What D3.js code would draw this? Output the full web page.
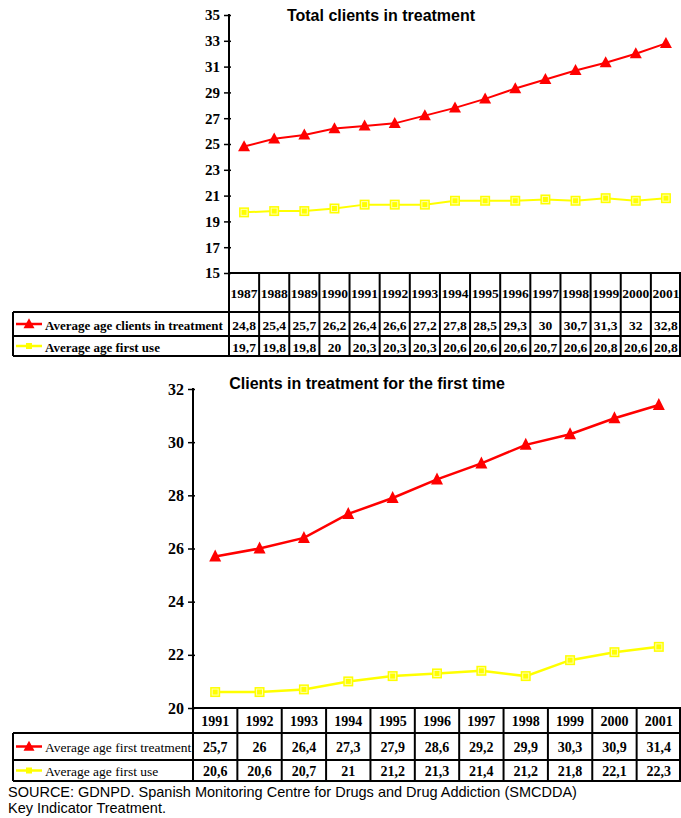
<!DOCTYPE html>
<html>
<head>
<meta charset="utf-8">
<script src="https://cdn.jsdelivr.net/npm/d3@7/dist/d3.min.js"></script>
<style>
  html, body { margin: 0; padding: 0; background: #fff; }
  svg { display: block; }
  .tick text { font-family: 'Liberation Serif', 'Times New Roman', Times, serif !important; font-weight: bold; }
</style>
</head>
<body>
<script>
// ---- Data: total clients in treatment ----
const totalYears = ["1987","1988","1989","1990","1991","1992","1993","1994","1995","1996","1997","1998","1999","2000","2001"];
const totalAgeTreatment = [24.8,25.4,25.7,26.2,26.4,26.6,27.2,27.8,28.5,29.3,30,30.7,31.3,32,32.8];
const totalAgeFirstUse = [19.7,19.8,19.8,20,20.3,20.3,20.3,20.6,20.6,20.6,20.7,20.6,20.8,20.6,20.8];
const totalTicks = [15,17,19,21,23,25,27,29,31,33,35];

// ---- Data: clients in treatment for the first time ----
const firstYears = ["1991","1992","1993","1994","1995","1996","1997","1998","1999","2000","2001"];
const firstAgeTreatment = [25.7,26,26.4,27.3,27.9,28.6,29.2,29.9,30.3,30.9,31.4];
const firstAgeFirstUse = [20.6,20.6,20.7,21,21.2,21.3,21.4,21.2,21.8,22.1,22.3];
const firstTicks = [20,22,24,26,28,30,32];

const sourceLines = [
  "SOURCE: GDNPD. Spanish Monitoring Centre for Drugs and Drug Addiction (SMCDDA)",
  "Key Indicator Treatment."
];

const RED = "#ff0000", YELLOW = "#ffff00";
const SERIF = "'Liberation Serif', 'Times New Roman', Times, serif";
const SANS = "'Liberation Sans', Arial, Helvetica, sans-serif";
const fmt = v => String(v).replace(".", ",");

const svg = d3.select("body").append("svg")
  .attr("width", 681).attr("height", 818);

function triangle(sel, w, h) {
  sel.append("path")
    .attr("d", `M0,${-h * 0.58}L${w / 2},${h * 0.42}L${-w / 2},${h * 0.42}Z`)
    .attr("fill", RED);
}
function square(sel, s) {
  sel.append("rect").attr("x", -s / 2).attr("y", -s / 2).attr("width", s).attr("height", s)
    .attr("fill", YELLOW);
  if (s > 6) {
    sel.append("rect").attr("x", -s / 2 + 2).attr("y", -s / 2 + 2)
      .attr("width", s - 4).attr("height", s - 4)
      .attr("fill", "none").attr("stroke", "#ffffb0").attr("stroke-width", 1);
  }
}

function panel(o) {
  const g = svg.append("g");
  const x = d3.scaleBand().domain(o.years).range([o.left, o.right]).padding(0);
  const y = d3.scaleLinear().domain(o.yDomain).range([o.bottom, o.top]);

  // title
  g.append("text").attr("x", o.titleX).attr("y", o.titleY)
    .attr("text-anchor", "middle")
    .attr("font-family", SANS).attr("font-weight", "bold").attr("font-size", o.titleSize)
    .text(o.title);

  // y axis
  const ax = g.append("g").attr("transform", `translate(${o.left},0)`)
    .call(d3.axisLeft(y).tickValues(o.ticks).tickSize(5).tickPadding(4).tickFormat(d3.format("d")));
  ax.attr("font-family", SERIF).attr("font-size", o.tickSize).attr("font-weight", "bold");
  ax.select(".domain").attr("stroke", "#000").attr("stroke-width", 2)
    .attr("d", `M0,${o.bottom}V${o.top - 1}`);
  ax.selectAll(".tick line").attr("stroke", "#000").attr("stroke-width", 1.5).attr("x2", -5).attr("x1", 2);
  ax.selectAll(".tick text").attr("fill", "#000")
    .style("font-family", SERIF).style("font-size", o.tickSize + "px").style("font-weight", "bold");

  // series
  const series = [
    { vals: o.a, color: RED, kind: "tri" },
    { vals: o.b, color: YELLOW, kind: "sq" }
  ];
  const line = d3.line().x((d, i) => x(o.years[i]) + x.bandwidth() / 2).y(d => y(d));
  series.forEach(s => {
    g.append("path").datum(s.vals).attr("d", line)
      .attr("fill", "none").attr("stroke", s.color).attr("stroke-width", o.lineW);
    g.selectAll(null).data(s.vals).enter().append("g")
      .attr("transform", (d, i) => `translate(${x(o.years[i]) + x.bandwidth() / 2},${y(d)})`)
      .each(function () {
        if (s.kind === "tri") triangle(d3.select(this), o.triW, o.triH);
        else square(d3.select(this), o.sq);
      });
  });

  // data table
  const rows = o.rows; // [headerBottom, row1Bottom, row2Bottom]
  const tbl = g.append("g").attr("stroke", "#000").attr("stroke-width", 2).attr("fill", "none");
  tbl.append("line").attr("x1", o.left).attr("x2", o.right).attr("y1", o.bottom).attr("y2", o.bottom);
  rows.forEach(r => tbl.append("line").attr("x1", o.legendLeft).attr("x2", o.right).attr("y1", r).attr("y2", r));
  const bounds = o.years.map(yr => x(yr)).concat([o.right - 1]);
  bounds.forEach(bx => tbl.append("line").attr("x1", bx).attr("x2", bx)
    .attr("y1", o.bottom).attr("y2", rows[2]));
  tbl.append("line").attr("x1", o.legendLeft).attr("x2", o.legendLeft).attr("y1", rows[0]).attr("y2", rows[2]);

  const cell = (txt, cx, cy, size, weight) =>
    g.append("text").attr("x", cx).attr("y", cy).attr("text-anchor", "middle")
      .attr("dominant-baseline", "central")
      .attr("font-family", SERIF).attr("font-weight", weight).attr("font-size", size)
      .text(txt);

  const cx = yr => x(yr) + x.bandwidth() / 2;
  o.years.forEach(yr => cell(yr, cx(yr), (o.bottom + rows[0]) / 2 + 1, o.cellSize, "bold"));
  o.a.forEach((v, i) => cell(fmt(v), cx(o.years[i]), (rows[0] + rows[1]) / 2 + 1, o.cellSize, "bold"));
  o.b.forEach((v, i) => cell(fmt(v), cx(o.years[i]), (rows[1] + rows[2]) / 2 + 1, o.cellSize, "bold"));

  // legend keys inside the table
  const keyY = [(rows[0] + rows[1]) / 2, (rows[1] + rows[2]) / 2];
  const k1 = g.append("g").attr("transform", `translate(${o.legendLeft + 16},${keyY[0]})`);
  k1.append("line").attr("x1", -13).attr("x2", 13).attr("stroke", RED).attr("stroke-width", 2.5);
  triangle(k1, 11, 10);
  const k2 = g.append("g").attr("transform", `translate(${o.legendLeft + 16},${keyY[1]})`);
  k2.append("line").attr("x1", -13).attr("x2", 13).attr("stroke", YELLOW).attr("stroke-width", 2.5);
  square(k2, 6);
  o.labels.forEach((lab, i) =>
    g.append("text").attr("x", o.legendLeft + 32).attr("y", keyY[i] + 1)
      .attr("dominant-baseline", "central")
      .attr("font-family", SERIF).attr("font-weight", o.labelWeight).attr("font-size", o.labelSize)
      .text(lab));
}

panel({
  title: "Total clients in treatment", titleX: 381, titleY: 21, titleSize: 16,
  years: totalYears, a: totalAgeTreatment, b: totalAgeFirstUse,
  ticks: totalTicks, yDomain: [15, 35],
  left: 229, right: 681, top: 15, bottom: 273,
  rows: [312, 336, 356], legendLeft: 13,
  labels: ["Average age clients in treatment", "Average age first use"],
  labelWeight: "bold", labelSize: 13, cellSize: 13.5, tickSize: 15,
  lineW: 2, triW: 12, triH: 11, sq: 10
});

panel({
  title: "Clients in treatment for the first time", titleX: 367, titleY: 389, titleSize: 16,
  years: firstYears, a: firstAgeTreatment, b: firstAgeFirstUse,
  ticks: firstTicks, yDomain: [20, 32],
  left: 193, right: 681, top: 389, bottom: 708,
  rows: [733, 760, 781], legendLeft: 13,
  labels: ["Average age first treatment", "Average age first use"],
  labelWeight: "normal", labelSize: 13.5, cellSize: 14, tickSize: 16,
  lineW: 2.5, triW: 12, triH: 12, sq: 10
});

// source note
svg.append("g").selectAll("text").data(sourceLines).enter().append("text")
  .attr("x", 8).attr("y", (d, i) => 797 + i * 16)
  .attr("font-family", SANS).attr("font-size", 14.5)
  .text(d => d);
</script>
</body>
</html>
